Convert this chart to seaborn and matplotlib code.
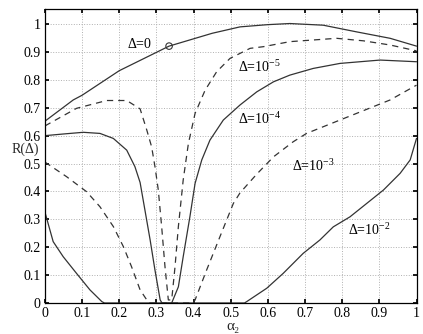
import numpy as np
import pandas as pd
import matplotlib
matplotlib.use("Agg")
import matplotlib.pyplot as plt
import seaborn as sns

# Data
x_d0 = [0.0, 0.076, 0.1, 0.2, 0.334, 0.45, 0.525, 0.6, 0.659, 0.749, 0.839, 0.929, 1.0]
y_d0 = [0.652, 0.728, 0.745, 0.833, 0.921, 0.967, 0.99, 0.998, 1.002, 0.996, 0.972, 0.949, 0.921]

x_d5 = [0.0, 0.085, 0.166, 0.22, 0.256, 0.274, 0.287, 0.296, 0.305, 0.314, 0.323, 0.332,
        0.341, 0.35, 0.359, 0.372, 0.386, 0.404, 0.431, 0.462, 0.498, 0.552, 0.588,
        0.659, 0.722, 0.785, 0.857, 0.929, 1.0]
y_d5 = [0.635, 0.698, 0.726, 0.726, 0.696, 0.62, 0.56, 0.489, 0.405, 0.274, 0.13, 0.011,
        0.011, 0.13, 0.274, 0.441, 0.572, 0.68, 0.763, 0.829, 0.877, 0.913, 0.919,
        0.937, 0.943, 0.949, 0.94, 0.925, 0.904]

x_d4 = [0.0, 0.05, 0.103, 0.148, 0.184, 0.22, 0.242, 0.256, 0.269, 0.283, 0.296, 0.31, 0.315,
        0.341, 0.359, 0.372, 0.39, 0.404, 0.422, 0.444, 0.48, 0.525, 0.57, 0.615,
        0.659, 0.722, 0.794, 0.902, 1.0]
y_d4 = [0.6, 0.606, 0.612, 0.608, 0.59, 0.548, 0.489, 0.432, 0.333, 0.226, 0.118, 0.011, 0.0,
        0.0, 0.058, 0.166, 0.309, 0.429, 0.513, 0.584, 0.656, 0.71, 0.757, 0.793,
        0.817, 0.841, 0.859, 0.871, 0.865]

x_d3 = [0.0, 0.058, 0.112, 0.148, 0.184, 0.211, 0.233, 0.256, 0.274, 0.28, 0.398,
        0.404, 0.435, 0.471, 0.507, 0.525, 0.57, 0.615, 0.668, 0.704, 0.749, 0.794,
        0.839, 0.929, 1.0]
y_d3 = [0.505, 0.453, 0.399, 0.345, 0.274, 0.202, 0.13, 0.047, 0.011, 0.0, 0.0,
        0.011, 0.118, 0.238, 0.357, 0.395, 0.462, 0.524, 0.578, 0.608, 0.632, 0.656,
        0.68, 0.728, 0.781]

x_d2 = [0.0, 0.022, 0.049, 0.085, 0.121, 0.153, 0.16, 0.537, 0.543, 0.597, 0.641, 0.695,
        0.74, 0.776, 0.821, 0.866, 0.911, 0.956, 0.983, 1.0]
y_d2 = [0.325, 0.22, 0.166, 0.106, 0.047, 0.005, 0.0, 0.0, 0.005, 0.053, 0.106, 0.178,
        0.226, 0.273, 0.309, 0.357, 0.405, 0.465, 0.513, 0.59]

labels = [r"$\Delta$=0", r"$\Delta$=10$^{-5}$", r"$\Delta$=10$^{-4}$",
          r"$\Delta$=10$^{-3}$", r"$\Delta$=10$^{-2}$"]
label_pos = [(0.22, 0.93), (0.52, 0.845), (0.52, 0.66), (0.665, 0.49), (0.815, 0.26)]

x_ticks = [0, 0.1, 0.2, 0.3, 0.4, 0.5, 0.6, 0.7, 0.8, 0.9, 1]
y_ticks = [0, 0.1, 0.2, 0.3, 0.4, 0.5, 0.6, 0.7, 0.8, 0.9, 1]
marker_x = [0.334]
marker_y = [0.921]

sns.set_theme(style="white")
plt.rcParams['font.family'] = ['Liberation Serif', 'DejaVu Serif']
plt.rcParams['mathtext.fontset'] = 'custom'
plt.rcParams['mathtext.rm'] = 'Liberation Serif'
plt.rcParams['mathtext.it'] = 'Liberation Serif:italic'

fig = plt.figure(figsize=(4.23, 3.34), dpi=100)
ax = fig.add_axes([45/423, 1-303/334, (416.5-45)/423, (303-9.3)/334])

series = [(x_d0, y_d0, "-"), (x_d5, y_d5, (0, (5, 4))), (x_d4, y_d4, "-"),
          (x_d3, y_d3, (0, (5, 4))), (x_d2, y_d2, "-")]
for xs, ys, ls in series:
    df = pd.DataFrame({"x": xs, "y": ys})
    sns.lineplot(data=df, x="x", y="y", ax=ax, color="#333333", linewidth=0.9,
                 linestyle=ls, sort=False, estimator=None)

sns.scatterplot(x=marker_x, y=marker_y, ax=ax, marker="o", s=22,
                facecolor="none", edgecolor="#333333", linewidth=0.8, zorder=5)

for lab, (lx, ly) in zip(labels, label_pos):
    ax.text(lx, ly, lab, fontsize=10, color="black", va="center", ha="left")

ax.set_xlim(0, 1)
ax.set_ylim(0, 1.053)
ax.set_xticks(x_ticks)
ax.set_yticks(y_ticks)
ax.set_xticklabels([f"{t:g}" for t in x_ticks])
ax.set_yticklabels([f"{t:g}" for t in y_ticks])
ax.tick_params(direction="in", length=3, labelsize=10, colors="black",
               top=True, right=True, bottom=True, left=True, pad=3)
ax.grid(True, linestyle=":", color="#b0b0b0", linewidth=0.7)
for s in ax.spines.values():
    s.set_color("black")
    s.set_linewidth(0.9)

ax.set_xlabel("α₂", fontsize=11, va="top")
ax.xaxis.set_label_coords(0.505, -0.058)
ax.set_ylabel("R(Δ)", fontsize=10, rotation=0, va="center", ha="right")
ax.yaxis.set_label_coords(-0.015, 0.5223)

fig.savefig("out.png", dpi=100)
